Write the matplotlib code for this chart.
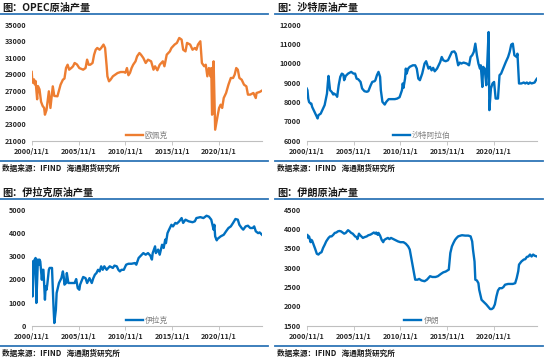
import pandas as pd
import matplotlib
matplotlib.use('Agg')
import matplotlib.pyplot as plt
from matplotlib.lines import Line2D

plt.rcParams['font.family'] = ['Noto Sans CJK SC', 'DejaVu Sans']

# ---- data (kb/d) ----
opec_dates = ['2000-11', '2000-12', '2001-02', '2001-03', '2001-04', '2001-06', '2001-07', '2001-09',
              '2001-11', '2002-01', '2002-03', '2002-04', '2002-06', '2002-09', '2002-11', '2003-02',
              '2003-04', '2003-08', '2003-12', '2004-03', '2004-05', '2004-07', '2004-09', '2004-11',
              '2005-02', '2005-04', '2005-06', '2005-09', '2005-12', '2006-05', '2006-08', '2006-10',
              '2006-12', '2007-02', '2007-05', '2007-07', '2007-09', '2007-11', '2008-02', '2008-04',
              '2008-07', '2008-09', '2008-11', '2008-12', '2009-02', '2009-04', '2009-07', '2009-10',
              '2010-01', '2010-05', '2010-09', '2010-11', '2011-01', '2011-03', '2011-05', '2011-07',
              '2011-09', '2011-12', '2012-02', '2012-05', '2012-07', '2012-10', '2013-01', '2013-04',
              '2013-08', '2013-11', '2014-01', '2014-04', '2014-07', '2014-11', '2015-01', '2015-04',
              '2015-08', '2015-10', '2016-02', '2016-05', '2016-08', '2016-11', '2017-01', '2017-04',
              '2017-06', '2017-10', '2018-01', '2018-04', '2018-06', '2018-08', '2018-11', '2019-01',
              '2019-04', '2019-06', '2019-08', '2019-10', '2019-12', '2020-01', '2020-02', '2020-03',
              '2020-04', '2020-06', '2020-09', '2020-11', '2021-01', '2021-03', '2021-05', '2021-08',
              '2021-11', '2022-02', '2022-05', '2022-07', '2022-09', '2022-11', '2023-01', '2023-04',
              '2023-07', '2023-10', '2023-12', '2024-03', '2024-07', '2024-10', '2024-11', '2025-03',
              '2025-06']
opec_vals = [29300, 28000, 28400, 27800, 28200, 26000, 27600, 27200,
             25700, 25200, 24950, 24140, 24700, 26960, 24950, 27560,
             26400, 26360, 27760, 28360, 28500, 29770, 30170, 29570,
             29800, 29980, 30380, 30200, 29770, 29570, 29770, 30780,
             30170, 30170, 30380, 31380, 31980, 32190, 31980, 32190,
             32600, 32190, 30000, 28770, 28170, 28360, 28770, 28970,
             29170, 29290, 29290, 29200, 29770, 28900, 29200, 29770,
             30170, 30580, 31180, 31580, 31380, 30980, 30380, 30780,
             30580, 29570, 29980, 29500, 30170, 30580, 29980, 31380,
             31780, 32190, 32600, 32800, 33400, 33200, 31980, 31780,
             32800, 32600, 31980, 32190, 31980, 32600, 33000, 30380,
             29980, 30170, 28770, 29770, 28770, 29770, 24140, 24340,
             30580, 22330, 23940, 24950, 25350, 24950, 26150, 26760,
             27760, 28570, 28570, 28970, 29770, 29570, 28570, 28360,
             27760, 27560, 26560, 26560, 26760, 26150, 26760, 26880,
             27050]

saudi_dates = ['2000-11', '2000-12', '2001-01', '2001-02', '2001-04', '2001-05', '2001-06', '2001-09',
               '2001-11', '2002-01', '2002-02', '2002-05', '2002-08', '2002-10', '2003-01', '2003-02',
               '2003-03', '2003-05', '2003-07', '2003-09', '2003-10', '2004-01', '2004-02', '2004-04',
               '2004-06', '2004-08', '2004-10', '2004-11', '2005-01', '2005-04', '2005-08', '2005-11',
               '2006-01', '2006-03', '2006-05', '2006-08', '2006-10', '2007-01', '2007-04', '2007-06',
               '2007-09', '2007-11', '2008-02', '2008-03', '2008-05', '2008-07', '2008-09', '2008-10',
               '2008-12', '2009-03', '2009-05', '2009-08', '2009-12', '2010-04', '2010-07', '2010-10',
               '2011-01', '2011-02', '2011-03', '2011-05', '2011-06', '2011-07', '2011-09', '2011-11',
               '2012-03', '2012-06', '2012-08', '2012-10', '2012-12', '2013-03', '2013-06', '2013-08',
               '2013-11', '2014-01', '2014-03', '2014-05', '2014-07', '2014-10', '2015-02', '2015-04',
               '2015-06', '2015-09', '2015-12', '2016-03', '2016-05', '2016-08', '2016-10', '2017-01',
               '2017-03', '2017-05', '2017-08', '2017-12', '2018-03', '2018-05', '2018-07', '2018-09',
               '2018-11', '2019-01', '2019-03', '2019-05', '2019-06', '2019-08', '2019-09', '2019-11',
               '2020-01', '2020-02', '2020-04', '2020-05', '2020-07', '2020-09', '2020-11', '2021-01',
               '2021-04', '2021-06', '2021-08', '2021-11', '2022-02', '2022-05', '2022-07', '2022-09',
               '2022-11', '2023-01', '2023-04', '2023-05', '2023-07', '2023-10', '2024-01', '2024-03',
               '2024-05', '2024-07', '2024-09', '2024-11', '2025-03', '2025-05', '2025-06']
saudi_vals = [8700, 8610, 8180, 8000, 7920, 7920, 7750, 7490,
              7320, 7150, 7320, 7400, 7660, 7840, 8440, 8960,
              9350, 8610, 8530, 8390, 8440, 8350, 8270, 8870,
              9300, 9470, 9420, 9130, 9350, 9470, 9560, 9470,
              9470, 9210, 9180, 9040, 8700, 8560, 8530, 8560,
              8870, 9040, 9080, 9130, 9390, 9560, 9300, 8610,
              8010, 7870, 8010, 8150, 8150, 8150, 8180, 8250,
              8610, 8960, 8730, 9210, 9730, 9470, 9730, 9820,
              9900, 9900, 9730, 9210, 9130, 9470, 9990, 10110,
              9730, 9820, 9640, 9770, 9590, 9730, 10070, 10330,
              10160, 10110, 10160, 10420, 10590, 10620, 10500, 9900,
              10040, 9990, 10040, 9990, 9900, 10330, 10420, 10590,
              11020, 10420, 9990, 9730, 9900, 8780, 9820, 9730,
              8870, 9730, 11620, 7580, 8700, 8960, 9040, 8180,
              8180, 9390, 9470, 9770, 10070, 10330, 10590, 10970,
              11020, 10420, 10330, 10500, 8960, 8960, 9010, 8960,
              9010, 8940, 9010, 8960, 9010, 9160, 9210]

iraq_dates = ['2000-11', '2000-12', '2001-02', '2001-04', '2001-05', '2001-07', '2001-08', '2001-09',
              '2001-10', '2001-12', '2002-01', '2002-02', '2002-04', '2002-05', '2002-06', '2002-07',
              '2002-09', '2002-10', '2003-01', '2003-03', '2003-04', '2003-05', '2003-06', '2003-07',
              '2003-09', '2003-10', '2004-01', '2004-03', '2004-04', '2004-05', '2004-07', '2004-08',
              '2004-10', '2005-02', '2005-06', '2005-08', '2005-10', '2005-12', '2006-01', '2006-05',
              '2006-08', '2006-10', '2007-01', '2007-04', '2007-06', '2007-08', '2007-10', '2007-12',
              '2008-02', '2008-04', '2008-06', '2008-08', '2008-11', '2009-01', '2009-03', '2009-07',
              '2009-09', '2009-12', '2010-02', '2010-04', '2010-06', '2010-09', '2010-12', '2011-03',
              '2011-07', '2011-11', '2012-01', '2012-04', '2012-06', '2012-10', '2013-01', '2013-04',
              '2013-07', '2013-09', '2013-10', '2014-01', '2014-02', '2014-05', '2014-07', '2014-10',
              '2014-12', '2015-02', '2015-03', '2015-05', '2015-07', '2015-10', '2015-12', '2016-03',
              '2016-05', '2016-08', '2016-11', '2017-01', '2017-04', '2017-08', '2018-01', '2018-04',
              '2018-06', '2018-11', '2019-03', '2019-07', '2019-10', '2020-01', '2020-03', '2020-04',
              '2020-05', '2020-06', '2020-08', '2020-09', '2021-01', '2021-05', '2021-08', '2021-11',
              '2022-02', '2022-05', '2022-08', '2022-11', '2023-01', '2023-04', '2023-06', '2023-09',
              '2023-12', '2024-03', '2024-06', '2024-08', '2024-10', '2025-01', '2025-03', '2025-06']
iraq_vals = [2770, 1260, 2800, 2920, 980, 2850, 2630, 2850,
             2770, 1980, 2410, 2410, 1120, 1700, 1550, 1770,
             2410, 2490, 2490, 830, 115, 400, 690, 1410,
             1700, 1840, 2050, 2340, 2130, 1770, 1840, 2270,
             1840, 1840, 1840, 2010, 1620, 1550, 1770, 2100,
             2050, 1840, 2050, 1840, 2050, 2200, 2270, 2410,
             2340, 2560, 2410, 2560, 2410, 2490, 2560, 2490,
             2590, 2560, 2410, 2340, 2410, 2410, 2630, 2670,
             2670, 2700, 2630, 2920, 2990, 3130, 3060, 3130,
             3020, 2850, 3130, 3420, 3130, 3280, 3060, 3490,
             3350, 3710, 3560, 3990, 4140, 4350, 4280, 4430,
             4400, 4500, 4640, 4430, 4570, 4500, 4460, 4500,
             4640, 4680, 4640, 4740, 4700, 4570, 4280, 4140,
             4350, 3850, 3680, 3740, 3850, 3920, 4070, 4210,
             4280, 4430, 4600, 4570, 4350, 4210, 4140, 4280,
             4310, 4210, 4210, 4280, 4070, 3990, 4020, 3920]

iran_dates = ['2000-11', '2000-12', '2001-01', '2001-02', '2001-04', '2001-05', '2001-06', '2001-08',
              '2001-10', '2001-12', '2002-02', '2002-04', '2002-06', '2002-08', '2002-10', '2002-12',
              '2003-03', '2003-05', '2003-07', '2003-09', '2003-11', '2004-01', '2004-03', '2004-05',
              '2004-07', '2004-09', '2004-11', '2005-01', '2005-04', '2005-06', '2005-08', '2005-10',
              '2006-01', '2006-03', '2006-04', '2006-06', '2006-07', '2006-09', '2006-11', '2007-01',
              '2007-04', '2007-06', '2007-08', '2007-10', '2008-01', '2008-03', '2008-04', '2008-06',
              '2008-07', '2008-09', '2008-11', '2009-01', '2009-02', '2009-04', '2009-07', '2009-09',
              '2009-11', '2010-02', '2010-05', '2010-08', '2010-11', '2011-03', '2011-06', '2011-09',
              '2011-11', '2012-01', '2012-03', '2012-05', '2012-06', '2012-09', '2012-11', '2013-02',
              '2013-06', '2013-09', '2014-01', '2014-04', '2014-08', '2014-11', '2015-03', '2015-06',
              '2015-09', '2016-01', '2016-02', '2016-03', '2016-05', '2016-07', '2016-09', '2016-11',
              '2017-01', '2017-04', '2017-06', '2017-10', '2018-02', '2018-05', '2018-07', '2018-08',
              '2018-10', '2018-11', '2019-01', '2019-03', '2019-04', '2019-06', '2019-07', '2019-09',
              '2019-11', '2020-01', '2020-04', '2020-06', '2020-08', '2020-10', '2020-12', '2021-02',
              '2021-04', '2021-06', '2021-09', '2021-11', '2022-01', '2022-05', '2022-08', '2022-11',
              '2023-02', '2023-04', '2023-06', '2023-07', '2023-10', '2024-01', '2024-03', '2024-05',
              '2024-07', '2024-09', '2024-11', '2025-01', '2025-03', '2025-06']
iran_vals = [3830, 3850, 3770, 3810, 3660, 3720, 3700, 3590,
             3480, 3360, 3340, 3380, 3400, 3510, 3590, 3680,
             3770, 3810, 3810, 3850, 3900, 3910, 3940, 3950,
             3940, 3910, 3880, 3900, 3970, 3940, 3900, 3880,
             3810, 3790, 3740, 3880, 3850, 3810, 3770, 3790,
             3810, 3840, 3850, 3870, 3910, 3880, 3910, 3850,
             3900, 3830, 3720, 3660, 3710, 3740, 3770, 3740,
             3770, 3740, 3710, 3680, 3660, 3660, 3620, 3550,
             3470, 3250, 3030, 2820, 2690, 2690, 2710, 2670,
             2650, 2690, 2780, 2760, 2760, 2780, 2840, 2880,
             2900, 2950, 3160, 3380, 3550, 3640, 3720, 3770,
             3810, 3830, 3840, 3830, 3830, 3810, 3680, 3470,
             3160, 2690, 2670, 2600, 2430, 2260, 2170, 2130,
             2090, 2050, 1980, 1930, 1930, 1960, 2050, 2260,
             2410, 2470, 2470, 2500, 2560, 2580, 2580, 2580,
             2600, 2730, 2910, 3080, 3160, 3210, 3220, 3280,
             3290, 3340, 3290, 3340, 3310, 3290]

tick_dates = ['2000-11-01', '2005-11-01', '2010-11-01', '2015-11-01', '2020-11-01']
tick_labels = ['2000/11/1', '2005/11/1', '2010/11/1', '2015/11/1', '2020/11/1']

W, H = 550, 360
BLUE_RULE = '#2e75b6'

fig = plt.figure(figsize=(5.5, 3.6), dpi=100)


def hline(x0, x1, y):
    fig.add_artist(Line2D([x0 / W, x1 / W], [1 - y / H, 1 - y / H],
                          transform=fig.transFigure, color=BLUE_RULE, lw=1.3))


def panel(ox, oy, title, dates, vals, name, color, ylim, ystep):
    # header and footer
    fig.text((ox + 2) / W, 1 - (oy + 7.5) / H, title, fontsize=7.3, fontweight='bold',
             va='center', ha='left', color='#1a1a1a')
    hline(ox, ox + 268, oy + 13.5)
    hline(ox, ox + 268, oy + 160.5)
    fig.text((ox + 2) / W, 1 - (oy + 168.5) / H, '数据来源：IFIND   海通期货研究所',
             fontsize=5.5, fontweight='bold', va='center', ha='left', color='#1a1a1a')

    ax = fig.add_axes([(ox + 31.7) / W, 1 - (oy + 140.7) / H, 230.3 / W, 116 / H])
    x = pd.to_datetime(dates)
    ax.plot(x, vals, color=color, lw=1.7, label=name)
    ax.set_xlim(pd.Timestamp('2000-11-01'), pd.Timestamp('2025-06-01'))
    ax.set_ylim(*ylim)
    ax.set_yticks(range(ylim[0], ylim[1] + 1, ystep))
    ax.set_xticks(pd.to_datetime(tick_dates))
    ax.set_xticklabels(tick_labels)
    for s in ['top', 'right', 'left']:
        ax.spines[s].set_visible(False)
    ax.spines['bottom'].set_color('#bfbfbf')
    ax.spines['bottom'].set_linewidth(0.8)
    ax.tick_params(axis='y', length=0, labelsize=5.2, pad=4, labelcolor='#262626')
    ax.tick_params(axis='x', length=3, width=0.6, color='#bfbfbf', labelsize=5.2,
                   pad=2, labelcolor='#262626')
    for lab in ax.get_xticklabels() + ax.get_yticklabels():
        lab.set_fontweight('bold')
    ax.legend(loc='lower center', bbox_to_anchor=(0.5, -0.05), frameon=False,
              fontsize=5.6, labelcolor='#808080', handlelength=2.2, handletextpad=0.3)
    ax.patch.set_alpha(0)
    return ax


panel(0, 0, '图：OPEC原油产量', opec_dates, opec_vals, '欧佩克', '#ed7d31', (21000, 35000), 2000)
panel(275, 0, '图：沙特原油产量', saudi_dates, saudi_vals, '沙特阿拉伯', '#0070c0', (6000, 12000), 1000)
panel(0, 185, '图：伊拉克原油产量', iraq_dates, iraq_vals, '伊拉克', '#0070c0', (0, 5000), 1000)
panel(275, 185, '图：伊朗原油产量', iran_dates, iran_vals, '伊朗', '#0070c0', (1500, 4500), 500)

fig.savefig('out.png', dpi=100, facecolor='white')
